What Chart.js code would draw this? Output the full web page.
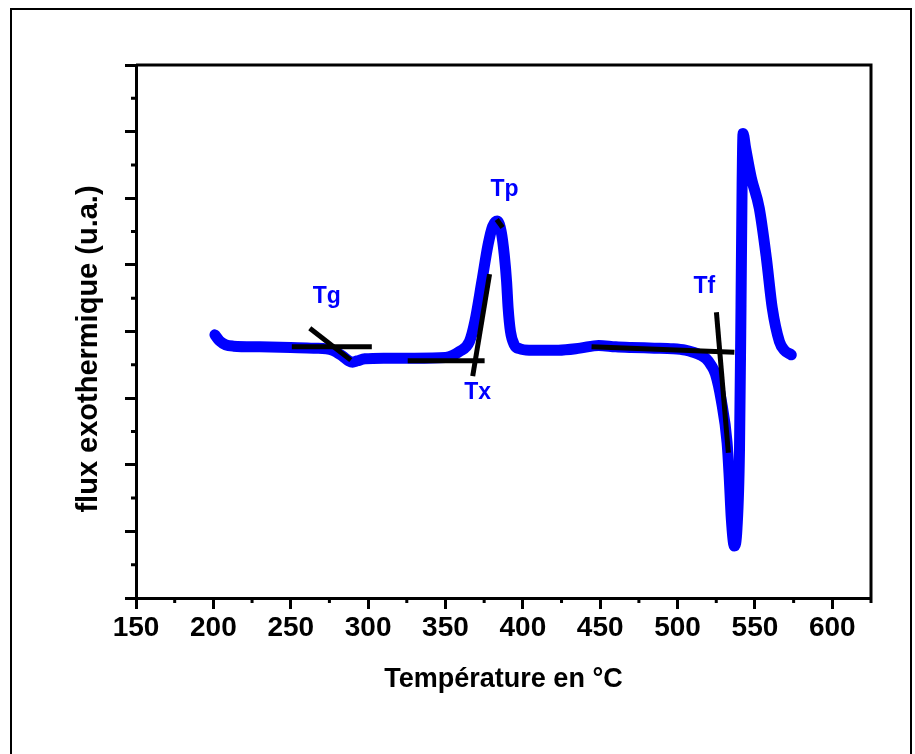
<!DOCTYPE html>
<html>
<head>
<meta charset="utf-8">
<script src="https://cdn.jsdelivr.net/npm/chart.js@4/dist/chart.umd.min.js"></script>
<style>
  body { margin: 0; background: #fff; }
  canvas { display: block; }
</style>
</head>
<body>
<canvas id="dscChart" width="915" height="754"></canvas>
<script>
// DSC curve (flux in arbitrary units, 0..8 on the frame)
const temperature = [201, 204, 208, 213, 230, 250, 265, 277, 283.5, 287.5, 290, 293, 298, 310, 330, 350,
    359, 365.5, 369, 373.5, 377.5, 380.5, 383.5, 386, 388, 389.5, 390.5, 392, 394.5, 398, 404,
    423, 437, 449, 460, 470, 485, 497, 505, 510, 514.5, 518.5, 521.5, 524.5, 528.2, 532, 533.4,
    534.7, 536.7, 538.4, 540, 541, 541.7, 542.3, 544, 547.7, 552.8, 557.4, 561.2, 565.8, 569, 573.5];
const flux = [3.95, 3.86, 3.80, 3.78, 3.77, 3.76, 3.75, 3.72, 3.63, 3.56, 3.54, 3.56, 3.59, 3.60, 3.60, 3.61,
    3.70, 3.85, 4.15, 4.75, 5.30, 5.58, 5.66, 5.50, 5.15, 4.75, 4.35, 4.00, 3.80, 3.74, 3.72,
    3.72, 3.75, 3.79, 3.77, 3.76, 3.75, 3.74, 3.72, 3.69, 3.65, 3.59, 3.50, 3.36, 2.97, 2.33, 1.80,
    1.20, 0.78, 1.05, 2.20, 4.40, 6.20, 6.97, 6.75, 6.30, 5.85, 5.10, 4.35, 3.85, 3.72, 3.65];

// tangent construction lines (start / end points)
const tangentStartT = [250.7, 262.3, 325.6, 367.6, 383.1, 444.4, 525.1];
const tangentStartF = [3.77, 4.05, 3.56, 3.33, 5.68, 3.77, 4.29];
const tangentEndT = [302.4, 288.8, 375.3, 378.5, 386.9, 536.7, 532.8];
const tangentEndF = [3.77, 3.57, 3.56, 4.86, 5.56, 3.69, 2.18];

// characteristic temperature labels
const markText = ['Tg', 'Tx', 'Tp', 'Tf'];
const markT = [273.3, 370.8, 388.2, 517.3];
const markF = [4.52, 3.08, 6.13, 4.67];

const xTicksMinor = [175, 225, 275, 325, 375, 425, 475, 525, 575, 625];
const yTicksMinor = [0.5, 1.5, 2.5, 3.5, 4.5, 5.5, 6.5, 7.5];

const FONT = '"Liberation Sans", Arial, sans-serif';
const Y_TITLE = 'flux exothermique (u.a.)';

const curve = temperature.map((t, i) => ({ x: t, y: flux[i] }));
const tangentSets = tangentStartT.map((t, i) => ({
    data: [{ x: t, y: tangentStartF[i] }, { x: tangentEndT[i], y: tangentEndF[i] }],
    borderColor: '#000000',
    borderWidth: 5,
    pointRadius: 0,
    order: 0
}));

const decor = {
    id: 'decor',
    afterDraw(chart) {
        const { ctx, chartArea: a, scales: { x, y } } = chart;
        ctx.save();
        ctx.strokeStyle = '#000';
        ctx.lineWidth = 3;
        // close the frame (top + right)
        ctx.beginPath();
        ctx.moveTo(a.left, a.top);
        ctx.lineTo(a.right, a.top);
        ctx.lineTo(a.right, a.bottom);
        ctx.stroke();
        // minor ticks
        ctx.beginPath();
        xTicksMinor.forEach(v => {
            const px = x.getPixelForValue(v);
            ctx.moveTo(px, a.bottom);
            ctx.lineTo(px, a.bottom + 5);
        });
        yTicksMinor.forEach(v => {
            const py = y.getPixelForValue(v);
            ctx.moveTo(a.left, py);
            ctx.lineTo(a.left - 5, py);
        });
        ctx.stroke();
        // y title, sits a bit below the frame centre in the original
        ctx.save();
        ctx.translate(89, 349);
        ctx.rotate(-Math.PI / 2);
        ctx.fillStyle = '#000';
        ctx.font = 'bold 29px ' + FONT;
        ctx.textAlign = 'center';
        ctx.textBaseline = 'middle';
        ctx.fillText(Y_TITLE, 0, 0);
        ctx.restore();
        // labels
        ctx.fillStyle = '#0000ff';
        ctx.font = 'bold 23px ' + FONT;
        ctx.textAlign = 'center';
        ctx.textBaseline = 'middle';
        markText.forEach((s, i) => {
            ctx.fillText(s, x.getPixelForValue(markT[i]), y.getPixelForValue(markF[i]));
        });
        // outer frame of the figure
        ctx.lineWidth = 2;
        ctx.strokeRect(11, 9, 900, 800);
        ctx.restore();
    }
};

new Chart(document.getElementById('dscChart'), {
    type: 'line',
    data: {
        datasets: [{
            data: curve,
            borderColor: '#0000ff',
            borderWidth: 11,
            borderCapStyle: 'round',
            borderJoinStyle: 'round',
            cubicInterpolationMode: 'monotone',
            pointRadius: 0,
            order: 10
        }, ...tangentSets]
    },
    options: {
        responsive: false,
        animation: false,
        layout: { padding: { left: 0, right: 44, top: 65, bottom: 0 } },
        plugins: { legend: { display: false }, tooltip: { enabled: false } },
        scales: {
            x: {
                type: 'linear',
                min: 150,
                max: 625,
                afterFit: s => { s.height = 156; },
                border: { color: '#000', width: 3 },
                grid: { drawOnChartArea: false, tickLength: 11, tickWidth: 3, tickColor: '#000' },
                ticks: {
                    stepSize: 50,
                    includeBounds: false,
                    maxRotation: 0,
                    padding: 2,
                    color: '#000',
                    font: { family: FONT, size: 28, weight: 'bold' }
                },
                title: {
                    display: true,
                    text: 'Température en °C',
                    color: '#000',
                    font: { family: FONT, size: 27, weight: 'bold' },
                    padding: { top: 0, bottom: 58 }
                }
            },
            y: {
                min: 0,
                max: 8,
                afterFit: s => { s.width = 136; },
                border: { color: '#000', width: 3 },
                grid: { drawOnChartArea: false, tickLength: 11, tickWidth: 3, tickColor: '#000' },
                ticks: { stepSize: 1, display: false },
                title: { display: false }
            }
        }
    },
    plugins: [decor]
});
</script>
</body>
</html>
